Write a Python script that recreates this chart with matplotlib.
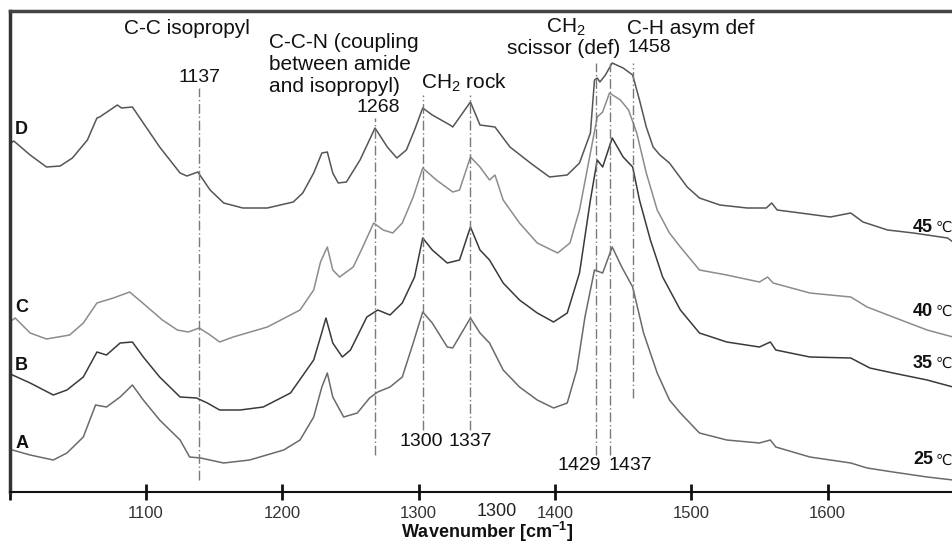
import matplotlib
matplotlib.use("Agg")
import matplotlib.pyplot as plt
from matplotlib.transforms import offset_copy

plt.rcParams['font.family'] = ['Liberation Sans', 'DejaVu Sans']
plt.rcParams['mathtext.fontset'] = 'custom'
plt.rcParams['mathtext.rm'] = 'Liberation Sans'
plt.rcParams['mathtext.it'] = 'Liberation Sans:italic'
plt.rcParams['mathtext.bf'] = 'Liberation Sans:bold'

# ---- data (wavenumber in cm-1, intensity in arbitrary stacked units) ----
wn_D = [1001, 1003, 1015, 1027, 1037, 1046, 1057, 1064, 1066, 1079, 1082, 1090, 1098, 1110, 1125, 1130,
        1138, 1147, 1157, 1171, 1189, 1208, 1215, 1223, 1229, 1233, 1237, 1241, 1247, 1257, 1268, 1277,
        1284, 1291, 1297, 1303, 1310, 1323, 1325, 1338, 1345, 1356, 1367, 1382, 1396, 1409, 1418, 1426,
        1429, 1431, 1433, 1437, 1442, 1450, 1457, 1462, 1467, 1472, 1477, 1484, 1497, 1506, 1521, 1541,
        1555, 1559, 1563, 1580, 1602, 1617, 1626, 1644, 1663, 1688, 1692]
int_D = [349, 351, 337, 325, 326, 334, 352, 374, 375, 387, 384, 385, 369, 345, 319, 316,
         320, 302, 289, 284, 284, 290, 299, 319, 339, 340, 319, 309, 310, 332, 364, 345,
         334, 342, 362, 384, 377, 367, 365, 390, 367, 365, 345, 329, 315, 317, 329, 359,
         412, 414, 410, 417, 429, 424, 417, 392, 365, 345, 337, 329, 305, 294, 287, 284,
         284, 289, 282, 279, 275, 279, 270, 262, 259, 254, 250]

wn_C = [1002, 1004, 1015, 1027, 1044, 1054, 1064, 1076, 1088, 1101, 1112, 1123, 1131, 1139, 1147, 1154,
        1164, 1189, 1213, 1223, 1228, 1233, 1237, 1242, 1252, 1259, 1267, 1274, 1281, 1288, 1296, 1303,
        1313, 1325, 1330, 1338, 1345, 1352, 1356, 1362, 1374, 1387, 1402, 1411, 1418, 1426, 1431, 1435,
        1440, 1448, 1454, 1460, 1467, 1475, 1484, 1492, 1506, 1526, 1550, 1556, 1560, 1587, 1617, 1629,
        1648, 1673, 1692]
int_C = [172, 174, 159, 153, 157, 169, 189, 194, 200, 185, 172, 162, 160, 164, 157, 150,
         155, 165, 182, 202, 230, 245, 222, 215, 225, 245, 269, 262, 259, 269, 295, 324,
         312, 300, 302, 335, 325, 312, 317, 292, 269, 249, 239, 249, 282, 339, 375, 380,
         399, 392, 382, 359, 319, 282, 259, 245, 222, 217, 210, 215, 209, 199, 195, 185,
         175, 162, 155]

wn_B = [1002, 1015, 1032, 1042, 1054, 1064, 1071, 1081, 1090, 1098, 1110, 1125, 1137, 1145, 1154, 1169,
        1186, 1206, 1223, 1228, 1232, 1237, 1244, 1250, 1262, 1270, 1279, 1288, 1297, 1303, 1310, 1321,
        1330, 1338, 1345, 1352, 1362, 1374, 1387, 1399, 1409, 1418, 1426, 1431, 1435, 1442, 1450, 1457,
        1462, 1470, 1479, 1492, 1506, 1526, 1550, 1558, 1562, 1587, 1617, 1631, 1648, 1673, 1692]
int_B = [117, 109, 97, 102, 115, 140, 137, 149, 150, 135, 115, 95, 94, 89, 82, 82,
         85, 99, 132, 155, 174, 149, 135, 142, 175, 182, 177, 189, 215, 254, 242, 229,
         232, 265, 242, 232, 209, 192, 179, 170, 179, 219, 292, 332, 325, 354, 335, 325,
         292, 252, 215, 182, 159, 150, 145, 150, 142, 135, 134, 124, 119, 112, 105]

wn_A = [1002, 1015, 1032, 1042, 1054, 1063, 1071, 1081, 1090, 1098, 1110, 1125, 1132, 1140, 1157, 1176,
        1201, 1213, 1223, 1229, 1233, 1237, 1245, 1255, 1264, 1270, 1279, 1288, 1296, 1303, 1310, 1321,
        1325, 1338, 1345, 1352, 1362, 1374, 1387, 1399, 1409, 1416, 1422, 1429, 1435, 1442, 1449, 1457,
        1465, 1475, 1484, 1492, 1506, 1526, 1550, 1558, 1562, 1587, 1617, 1629, 1648, 1673, 1692]
int_A = [42, 37, 32, 39, 55, 87, 85, 95, 107, 92, 72, 52, 35, 34, 29, 32,
         42, 52, 75, 105, 119, 95, 75, 79, 94, 100, 105, 115, 149, 180, 169, 145,
         144, 174, 159, 149, 122, 105, 92, 84, 89, 122, 175, 222, 219, 245, 225, 205,
         159, 119, 92, 79, 59, 52, 49, 52, 45, 35, 29, 24, 20, 15, 12]

series_names = ["A", "B", "C", "D"]
temp_values = ["25", "35", "40", "45"]
temp_unit = "℃"
xticks = [1000, 1100, 1200, 1300, 1400, 1500, 1600]
xtick_labels = ["", "1100", "1200", "1300", "1400", "1500", "1600"]

# band markers: (position, line bottom, line top)
band_pos = [1139, 1268, 1303, 1338, 1430, 1440.5, 1457]
band_lo = [12, 37, 62, 62, 37, 37, 94]
band_hi = [404, 374, 397, 397, 429, 429, 429]

# ---- figure ----
W, H = 953, 545
fig = plt.figure(figsize=(W / 100, H / 100), dpi=100)
ax = fig.add_axes([9.7 / W, 53 / H, 1 - 9.7 / W, 481 / H])
ax.set_xlim(1000, 1692)
ax.set_ylim(0, 481)

colors = {"A": "#6a6a6a", "B": "#3a3a3a", "C": "#8c8c8c", "D": "#555555"}
data = {"A": (wn_A, int_A), "B": (wn_B, int_B), "C": (wn_C, int_C), "D": (wn_D, int_D)}
for name in series_names:
    x, y = data[name]
    ax.plot(x, y, color=colors[name], lw=1.1, solid_joinstyle='round')

for xp, lo, hi in zip(band_pos, band_lo, band_hi):
    ax.plot([xp, xp], [lo, hi], color="#7a7a7a", lw=1.0, dashes=(7, 2, 1, 2))

# spines
ax.spines['right'].set_visible(False)
ax.spines['top'].set_linewidth(2.5)
ax.spines['top'].set_color('#444444')
ax.spines['left'].set_linewidth(2.5)
ax.spines['left'].set_color('#333333')
ax.spines['bottom'].set_linewidth(1.5)
ax.spines['bottom'].set_color('#111111')

ax.set_yticks([])
ax.set_xticks(xticks)
ax.set_xticklabels(xtick_labels)
ax.tick_params(axis='x', direction='inout', length=12, width=2, color='#111111',
               pad=4, labelsize=12, labelcolor='#333333')

fs_w = 15
fs_n = 14
tc = '#111111'
ax.text(1130, 463, "C-C isopropyl", ha='center', va='center', fontsize=fs_w, color=tc)
ax.text(1139, 415, "1137", ha='center', va='center', fontsize=fs_n, color=tc)
ax.text(1190, 449, "C-C-N (coupling", ha='left', va='center', fontsize=fs_w, color=tc)
ax.text(1190, 428, "between amide", ha='left', va='center', fontsize=fs_w, color=tc)
ax.text(1190, 406, "and isopropyl)", ha='left', va='center', fontsize=fs_w, color=tc)
ax.text(1270, 385, "1268", ha='center', va='center', fontsize=fs_n, color=tc)
ax.text(1302, 409, r"CH$_\mathregular{2}$ rock", ha='left', va='center', fontsize=fs_w, color=tc)
ax.text(1302, 51, "1300", ha='center', va='center', fontsize=fs_n, color=tc)
ax.text(1338, 51, "1337", ha='center', va='center', fontsize=fs_n, color=tc)
ax.text(1408, 465, r"CH$_\mathregular{2}$", ha='center', va='center', fontsize=fs_w, color=tc)
ax.text(1406, 444, "scissor (def)", ha='center', va='center', fontsize=fs_w, color=tc)
ax.text(1453, 463, "C-H asym def", ha='left', va='center', fontsize=fs_w, color=tc)
ax.text(1453, 444, "1458", ha='left', va='center', fontsize=fs_n, color=tc)
ax.text(1418, 26, "1429", ha='center', va='center', fontsize=fs_n, color=tc)
ax.text(1455, 26, "1437", ha='center', va='center', fontsize=fs_n, color=tc)

letter_y = {"A": 49, "B": 126, "C": 185, "D": 362}
for name in series_names:
    ax.text(1004, letter_y[name], name, ha='left', va='center', fontsize=13,
            fontweight='bold', color='#111111')

temp_y = [32, 129, 181, 265]
unit_tr = offset_copy(ax.transData, fig=fig, x=-1, y=0, units='dots')
num_tr = offset_copy(ax.transData, fig=fig, x=-20, y=0, units='dots')
for t, ty in zip(temp_values, temp_y):
    ax.text(1692, ty, temp_unit, ha='right', va='center', fontsize=10.5,
            family=['DejaVu Sans'], color='#111111', clip_on=False, transform=unit_tr)
    ax.text(1692, ty, t, ha='right', va='center', fontsize=13, fontweight='bold',
            color='#111111', clip_on=False, transform=num_tr)

fig.text(497 / W, 1 - 511 / H, "1300", ha='center', va='center', fontsize=13, color='#222222')
fig.text(487 / W, 1 - 532 / H, r"Wavenumber [cm$^{\mathbf{-1}}$]", ha='center', va='center',
         fontsize=13, fontweight='bold', color='#111111')

fig.savefig("out.png", dpi=100)
